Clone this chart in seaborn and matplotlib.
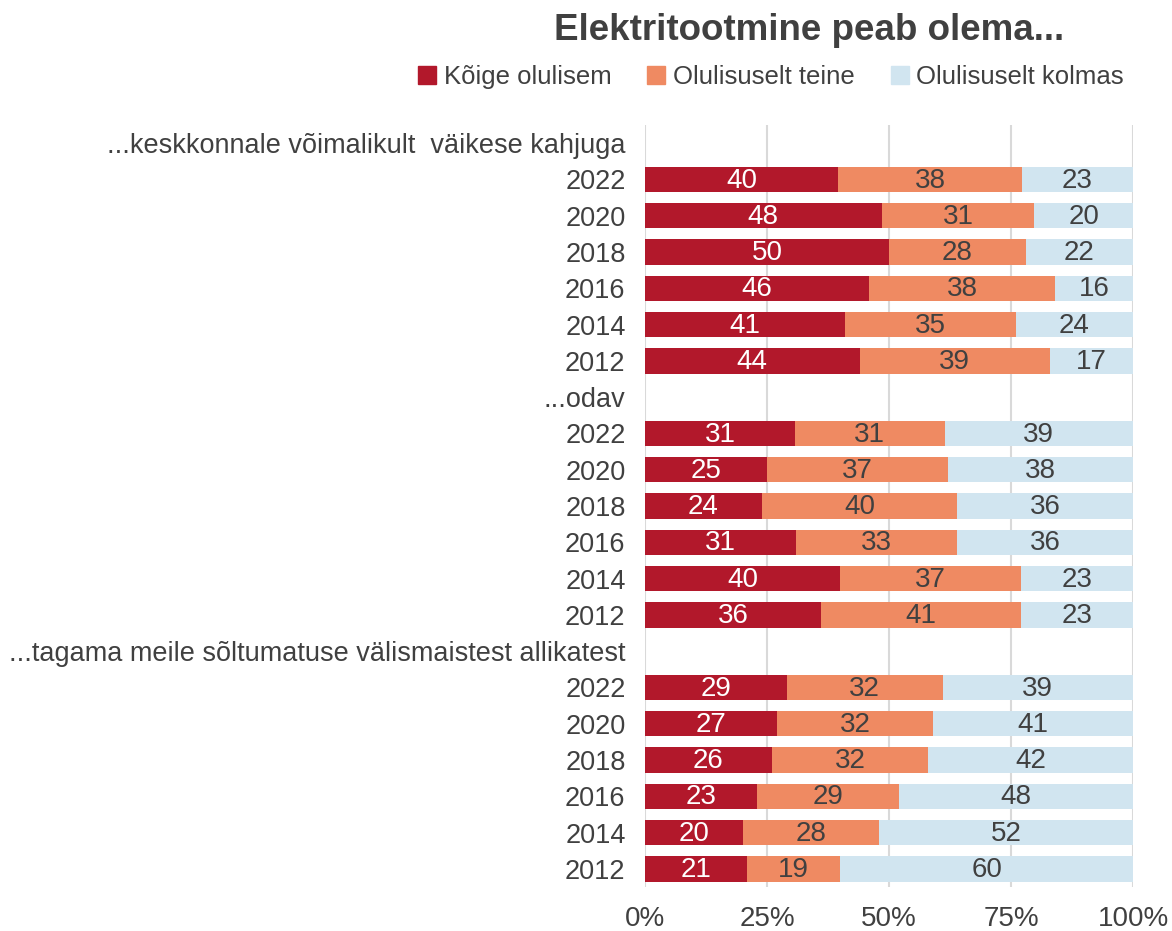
import numpy as np
import pandas as pd
import matplotlib
matplotlib.use("Agg")
import matplotlib.pyplot as plt
import seaborn as sns
from matplotlib.patches import Patch

groups = ["...keskkonnale võimalikult  väikese kahjuga", "...odav",
          "...tagama meile sõltumatuse välismaistest allikatest"]
years = ["2022", "2020", "2018", "2016", "2014", "2012"]
series = ["Kõige olulisem", "Olulisuselt teine", "Olulisuselt kolmas"]
first = [[40, 48, 50, 46, 41, 44], [31, 25, 24, 31, 40, 36], [29, 27, 26, 23, 20, 21]]
second = [[38, 31, 28, 38, 35, 39], [31, 37, 40, 33, 37, 41], [32, 32, 32, 29, 28, 19]]
third = [[23, 20, 22, 16, 24, 17], [39, 38, 36, 36, 23, 23], [39, 41, 42, 48, 52, 60]]
colors = ["#B2182B", "#EF8A62", "#D1E5F0"]
text_col = "#404040"

sns.set_theme(style="white")
plt.rcParams['font.family'] = ['Liberation Sans', 'DejaVu Sans']

rows = []
for gi, g in enumerate(groups):
    rows.append(dict(key=f"h{gi}", label=g, a=np.nan, b=np.nan, c=np.nan,
                     va=np.nan, vb=np.nan, vc=np.nan))
    for yi, y in enumerate(years):
        a, b, c = first[gi][yi], second[gi][yi], third[gi][yi]
        t = a + b + c
        rows.append(dict(key=f"r{gi}_{y}", label=y, a=a / t * 100, b=(a + b) / t * 100,
                         c=100.0, va=a, vb=b, vc=c))
df = pd.DataFrame(rows)
order = list(df["key"])

fig = plt.figure(figsize=(11.72, 9.31), dpi=100)
ax = fig.add_axes([645 / 1172, 1 - 887 / 931, (1133 - 645) / 1172, (887 - 125) / 931])

for col, c in zip(["c", "b", "a"], colors[::-1]):
    sns.barplot(data=df, x=col, y="key", order=order, color=c, width=0.7,
                saturation=1, orient="h", ax=ax, zorder=3, linewidth=0)

for i, r in df.iterrows():
    if np.isnan(r["va"]):
        continue
    segs = [(0, r["a"], r["va"], "white"), (r["a"], r["b"], r["vb"], text_col),
            (r["b"], 100, r["vc"], text_col)]
    for s, e, v, tc in segs:
        ax.text((s + e) / 2, i + 0.03, f"{int(v)}", ha="center", va="center",
                color=tc, fontsize=20, zorder=5)

ax.set_xlim(0, 100)
ax.set_ylim(len(order) - 0.5, -0.5)
ax.set_xticks([0, 25, 50, 75, 100])
ax.set_xticklabels(["0%", "25%", "50%", "75%", "100%"], fontsize=20, color=text_col)
ax.set_yticks(range(len(order)))
ax.set_yticklabels(df["label"], fontsize=19.5, color=text_col)
ax.tick_params(axis="y", length=0, pad=14)
ax.tick_params(axis="x", length=0, pad=14)
ax.set_xlabel("")
ax.set_ylabel("")
for s in ax.spines.values():
    s.set_visible(False)
ax.grid(axis="x", color="#D9D9D9", linewidth=1.5, zorder=0)
ax.set_axisbelow(True)

fig.text(809 / 1172, 1 - 30 / 931, "Elektritootmine peab olema...", ha="center",
         va="center", fontsize=26.5, fontweight="bold", color=text_col)
handles = [Patch(color=c, label=s) for c, s in zip(colors, series)]
fig.legend(handles=handles, loc="center", bbox_to_anchor=(771 / 1172, 1 - 77 / 931),
           ncol=3, frameon=False, fontsize=18.5, handlelength=0.7, handleheight=0.7,
           handletextpad=0.3, columnspacing=1.4, labelcolor=text_col)

fig.savefig("out.png", dpi=100)
